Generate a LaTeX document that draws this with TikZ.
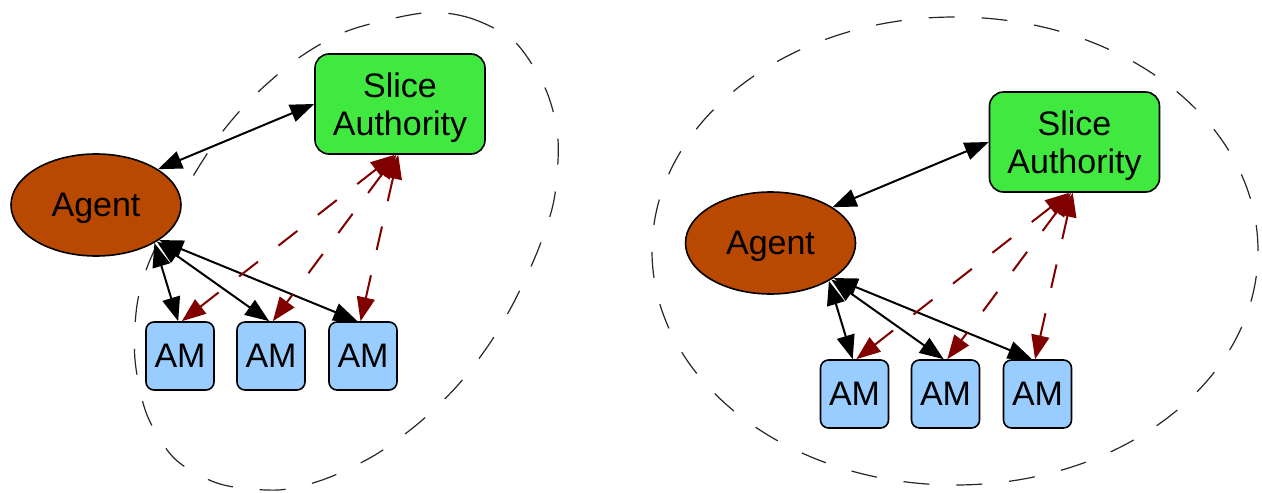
\documentclass[tikz,border=0pt]{standalone}
\usepackage{fontspec}
\setmainfont{Liberation Sans}
\usetikzlibrary{arrows.meta,shapes.geometric}

\definecolor{saGreen}{RGB}{64,232,64}
\definecolor{agentBrown}{RGB}{185,72,0}
\definecolor{amBlue}{RGB}{153,204,255}
\definecolor{rpcRed}{RGB}{128,0,0}

\tikzset{
  cluster/.style={draw=black!85, line width=0.6pt, dash pattern=on 13pt off 13.5pt},
  labelfont/.style={font=\fontsize{17}{19}\selectfont},
  agentnode/.style={ellipse, draw, line width=0.8pt, fill=agentBrown,
    minimum width=85pt, minimum height=51pt, inner sep=0pt, text depth=0pt, labelfont},
  sanode/.style={rectangle, rounded corners=7pt, draw, line width=0.8pt, fill=saGreen,
    minimum width=85pt, minimum height=50pt, align=center, text depth=0pt, labelfont},
  amnode/.style={rectangle, rounded corners=4pt, draw, line width=0.8pt, fill=amBlue,
    minimum width=34pt, minimum height=34pt, inner sep=0pt, labelfont},
  tip/.tip={Triangle[length=12pt,width=9pt]},
  link/.style={line width=1pt, tip-tip},
  delegation/.style={link, draw=rpcRed, dash pattern=on 12pt off 13pt},
}

% One agent / slice authority / aggregate managers group; #1 prefixes node names
\newcommand\slicegroup[1]{%
  \node[agentnode] (#1agent) at (0,0) {Agent};
  \node[sanode] (#1sa) at (304,-101) {Slice\\Authority};
  \node[amnode] (#1amA) at (84,151) {AM};
  \node[amnode] (#1amB) at (175,151) {AM};
  \node[amnode] (#1amC) at (267,151) {AM};
  \draw[link] (#1agent.30) -- (#1sa.west);
  \draw[link] (#1agent.-33) -- (#1amA.93);
  \draw[link] (#1agent.-31) -- (#1amB.93);
  \draw[link] (#1agent.-29) -- (#1amC.99);
  \draw[delegation] (#1sa.264) -- (#1amA.87);
  \draw[delegation] (#1sa.266) -- (#1amB.87);
  \draw[delegation] (#1sa.268) -- (#1amC.94);
}

\begin{document}
\begin{tikzpicture}[x=0.5pt,y=-0.5pt]
\useasboundingbox (0,0) rectangle (1262,492);

% cluster outlines
\draw[cluster] plot[smooth cycle] coordinates {
  (423,13) (470,18) (515,42) (546,90) (558,140) (554,200) (538,250) (515,300)
  (490,343) (458,385) (420,422) (375,455) (325,479) (278,490) (220,484)
  (175,459) (147,415) (135,360) (137,305) (150,260) (185,190) (220,135)
  (255,95) (300,57) (350,30)};
\draw[cluster] (955,251) ellipse [x radius=151.5pt, y radius=117pt];

\begin{scope}[shift={(96,205)}]
  \slicegroup{L}
\end{scope}
\begin{scope}[shift={(770.5,243)}]
  \slicegroup{R}
\end{scope}
\end{tikzpicture}
\end{document}
